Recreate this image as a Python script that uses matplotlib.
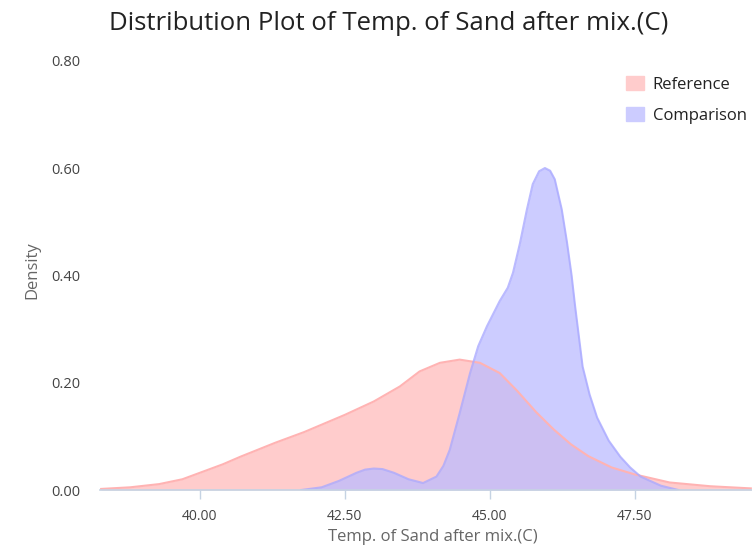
import matplotlib.pyplot as plt
from matplotlib.patches import Patch

# values
ref_x = [38.3, 38.8, 39.3, 39.7, 40.0, 40.4, 40.7, 41.3, 41.8, 42.5, 43.0, 43.45, 43.79,
         44.14, 44.48, 44.83, 45.17, 45.47, 45.8, 46.1, 46.4, 46.7, 47.1, 47.5, 48.1,
         48.8, 49.5]
ref_y = [0.002, 0.005, 0.011, 0.020, 0.032, 0.048, 0.062, 0.088, 0.108, 0.140, 0.165, 0.193, 0.221,
         0.237, 0.243, 0.237, 0.218, 0.185, 0.145, 0.113, 0.085, 0.063, 0.042, 0.029, 0.014,
         0.007, 0.003]

cmp_x = [41.75, 42.1, 42.4, 42.7, 42.85, 43.0, 43.15, 43.35, 43.6, 43.85, 44.08, 44.2, 44.31,
         44.48, 44.66, 44.8, 44.95, 45.17, 45.31, 45.4, 45.52, 45.64, 45.74, 45.85, 45.95,
         46.04, 46.12, 46.24, 46.33, 46.41, 46.47, 46.6, 46.72, 46.85, 47.05, 47.25, 47.42,
         47.6, 47.95, 48.25]
cmp_y = [0.0, 0.005, 0.017, 0.032, 0.038, 0.040, 0.039, 0.032, 0.020, 0.013, 0.025, 0.045, 0.075,
         0.143, 0.218, 0.268, 0.305, 0.352, 0.377, 0.405, 0.460, 0.523, 0.570, 0.594, 0.600,
         0.595, 0.579, 0.523, 0.462, 0.400, 0.343, 0.230, 0.178, 0.135, 0.092, 0.062, 0.042,
         0.025, 0.008, 0.0]

xticks = [40.0, 42.5, 45.0, 47.5]
yticks = [0.0, 0.2, 0.4, 0.6, 0.8]
series_names = ["Reference", "Comparison"]

plt.rcParams['font.family'] = ['Open Sans', 'DejaVu Sans']

fig = plt.figure(figsize=(7.52, 5.49), dpi=100)
ax = fig.add_axes([100 / 752, 59 / 549, 1 - 100 / 752, 440 / 549])

ref_face = (1.0, 0.8, 0.8)
ref_edge = (1.0, 0.7, 0.7)
cmp_face = (187 / 255, 187 / 255, 1.0)
cmp_edge = (170 / 255, 170 / 255, 1.0)

ax.fill_between(ref_x, ref_y, 0, color=ref_face, lw=0)
ax.plot(ref_x, ref_y, color=ref_edge, lw=1.5, solid_joinstyle='round')
ax.fill_between(cmp_x, cmp_y, 0, color=cmp_face, alpha=0.75, lw=0)
ax.plot(cmp_x, cmp_y, color=cmp_edge, lw=1.5, alpha=0.8, solid_joinstyle='round')

ax.set_xlim(38.28, 49.52)
ax.set_ylim(0, 0.82)

for s in ['top', 'right', 'left']:
    ax.spines[s].set_visible(False)
ax.spines['bottom'].set_color('#c5d3e3')
ax.spines['bottom'].set_linewidth(1.2)

ax.set_xticks(xticks)
ax.set_xticklabels(["%.2f" % v for v in xticks])
ax.set_yticks(yticks)
ax.set_yticklabels(["%.2f" % v for v in yticks])
ax.tick_params(axis='x', length=6.5, width=1, color='#c5d3e3', pad=7,
               labelsize=10, labelcolor='#444444')
ax.tick_params(axis='y', length=0, pad=14, labelsize=10.5, labelcolor='#444444')

ax.set_xlabel("Temp. of Sand after mix.(C)", fontsize=12, color='#666666')
ax.xaxis.set_label_coords(0.511, -0.088)
ax.set_ylabel("Density", fontsize=12, color='#666666', labelpad=8)

fig.text(0.517, 0.958, "Distribution Plot of Temp. of Sand after mix.(C)",
         ha='center', va='center', fontsize=18.5, color='#222222')

handles = [Patch(color=ref_face), Patch(color=(204 / 255, 204 / 255, 1.0))]
ax.legend(handles, series_names, loc='upper left',
          bbox_to_anchor=(626 / 752, 1 - 76 / 549), bbox_transform=fig.transFigure,
          frameon=False, fontsize=12, handlelength=1.1, handleheight=0.95,
          labelspacing=0.85, handletextpad=0.5, borderaxespad=0, borderpad=0,
          labelcolor='#222222')

fig.savefig("out.png", dpi=100)
